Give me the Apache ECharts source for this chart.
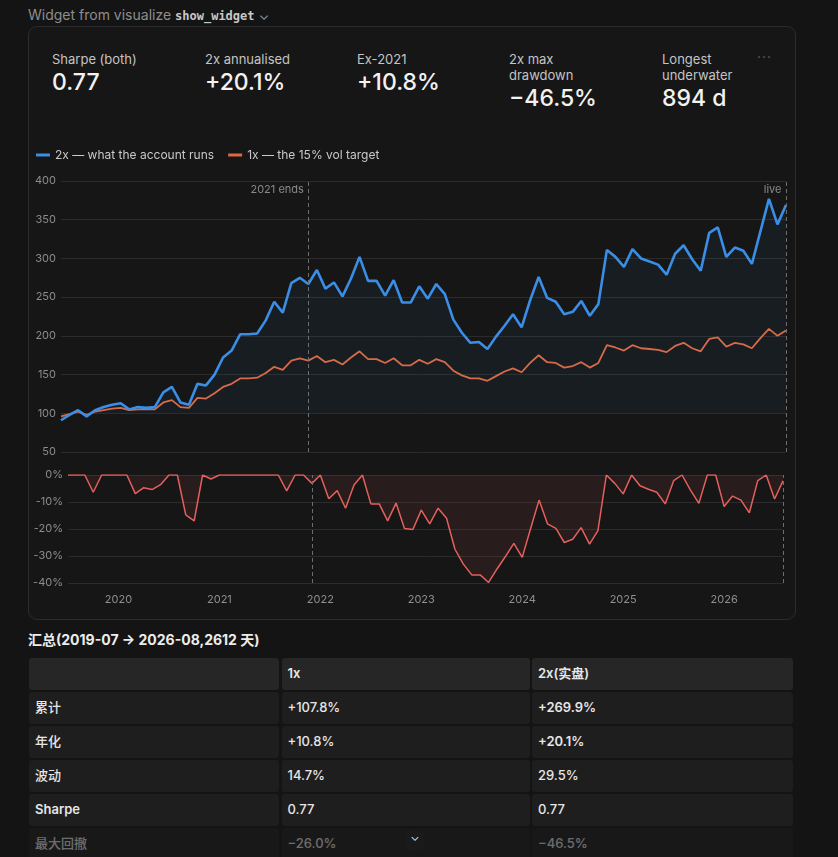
<!DOCTYPE html>
<html>
<head>
<meta charset="utf-8">
<script src="https://cdn.jsdelivr.net/npm/echarts@6/dist/echarts.min.js"></script>
<style>
html, body { margin: 0; padding: 0; width: 838px; height: 857px; overflow: hidden;
  background: #141414; font-family: Inter, "Noto Sans", "Noto Sans CJK SC", sans-serif; color: #e6e6e6; }
.top { position: absolute; left: 28px; top: 6px; font-size: 14px; color: #8e8e8e; line-height: 18px; }
.top code { font-family: "DejaVu Sans Mono", monospace; font-size: 12px; color: #c8c8c8; font-weight: bold; }
.card { position: absolute; left: 28px; top: 26px; width: 766px; height: 592px;
  border: 1px solid #2c2c2c; border-radius: 9px; background: #161616; }
.kpi { position: absolute; top: 51px; }
.kpi .lab { font-size: 13px; line-height: 16px; color: #c4c4c4; }
.kpi .val { font-size: 23px; line-height: 26px; margin-top: 2px; font-weight: 500; color: #f2f2f2; }
.dots { position: absolute; left: 757px; top: 48px; color: #5f5f5f; font-size: 14px; letter-spacing: 1px; }
#chart { position: absolute; left: 28px; top: 140px; width: 768px; height: 478px; }
.title { position: absolute; left: 28px; top: 630px; font-size: 14px; font-weight: 700; color: #ececec; line-height: 20px; }
.tbl { position: absolute; left: 29px; top: 658px; display: grid;
  grid-template-columns: 250px 248px 261px; grid-auto-rows: 31.5px; gap: 2.5px; }
.tbl div { background: #1e1e1e; border-radius: 3px; font-size: 13px; font-weight: 500;
  line-height: 31.5px; padding-left: 6px; color: #e6e6e6; }
.tbl div.h { background: #262626; font-weight: 600; }
.tbl div.b { font-weight: 600; }
.tbl div.f { opacity: 0.42; }
.more { position: absolute; left: 405px; top: 830px; width: 20px; height: 20px; border-radius: 6px;
  background: #1a1a1a; color: #cfcfcf; font-size: 12px; text-align: center; line-height: 14px; }
</style>
</head>
<body>
<div class="top">Widget from visualize <code>show_widget</code> &#8964;</div>
<div class="card"></div>
<div class="kpi" style="left:52px"><div class="lab">Sharpe (both)</div><div class="val">0.77</div></div>
<div class="kpi" style="left:205px"><div class="lab">2x annualised</div><div class="val">+20.1%</div></div>
<div class="kpi" style="left:357px"><div class="lab">Ex-2021</div><div class="val">+10.8%</div></div>
<div class="kpi" style="left:509px"><div class="lab">2x max<br>drawdown</div><div class="val">&minus;46.5%</div></div>
<div class="kpi" style="left:662px"><div class="lab">Longest<br>underwater</div><div class="val">894 d</div></div>
<div class="dots">&middot;&middot;&middot;</div>
<div id="chart"></div>
<div class="title">汇总(2019-07 &rarr; 2026-08,2612 天)</div>
<div class="tbl">
  <div class="h"></div><div class="h">1x</div><div class="h">2x(实盘)</div>
  <div>累计</div><div>+107.8%</div><div class="b">+269.9%</div>
  <div>年化</div><div>+10.8%</div><div class="b">+20.1%</div>
  <div>波动</div><div>14.7%</div><div>29.5%</div>
  <div class="b">Sharpe</div><div>0.77</div><div>0.77</div>
  <div class="f">最大回撤</div><div class="f">&minus;26.0%</div><div class="f">&minus;46.5%</div>
</div>
<div class="more">&#8964;</div>
<script>
var months = [
  '2019-07','2019-08','2019-09','2019-10','2019-11','2019-12',
  '2020-01','2020-02','2020-03','2020-04','2020-05','2020-06','2020-07','2020-08','2020-09','2020-10','2020-11','2020-12',
  '2021-01','2021-02','2021-03','2021-04','2021-05','2021-06','2021-07','2021-08','2021-09','2021-10','2021-11','2021-12',
  '2022-01','2022-02','2022-03','2022-04','2022-05','2022-06','2022-07','2022-08','2022-09','2022-10','2022-11','2022-12',
  '2023-01','2023-02','2023-03','2023-04','2023-05','2023-06','2023-07','2023-08','2023-09','2023-10','2023-11','2023-12',
  '2024-01','2024-02','2024-03','2024-04','2024-05','2024-06','2024-07','2024-08','2024-09','2024-10','2024-11','2024-12',
  '2025-01','2025-02','2025-03','2025-04','2025-05','2025-06','2025-07','2025-08','2025-09','2025-10','2025-11','2025-12',
  '2026-01','2026-02','2026-03','2026-04','2026-05','2026-06','2026-07','2026-08'
];

// 2x equity (start = 100)
var twoX = [
  91, 98, 104, 96, 104, 108, 111, 113, 105, 108,
  107, 108, 127, 134, 114, 111, 138, 136, 150, 172,
  181, 202, 202, 203, 220, 244, 230, 268, 275, 267,
  285, 261, 269, 251, 274, 302, 271, 271, 252, 272,
  243, 243, 264, 248, 267, 254, 221, 204, 191, 192,
  183, 199, 213, 228, 211, 246, 276, 249, 244, 228,
  231, 245, 226, 241, 311, 302, 289, 312, 300, 296,
  292, 279, 306, 317, 299, 284, 333, 340, 302, 314,
  310, 293, 335, 377, 344, 369
];

// 1x equity (15% vol target)
var oneX = [
  96, 99, 102, 98, 102, 104, 106, 107, 104, 105,
  105, 105, 114, 117, 108, 107, 120, 119, 126, 134,
  138, 145, 145, 146, 152, 160, 156, 168, 171, 168,
  174, 166, 169, 163, 172, 180, 170, 170, 165, 171,
  162, 162, 169, 164, 170, 166, 155, 149, 145, 145,
  142, 148, 154, 158, 153, 165, 175, 166, 165, 159,
  161, 166, 159, 165, 188, 185, 181, 188, 184, 183,
  182, 179, 187, 191, 184, 180, 196, 198, 186, 191,
  189, 184, 197, 209, 200, 207
];

// 2x drawdown, %
var drawdown = [
  0, 0, 0, -6.4, 0, 0, 0, 0, -6.9, -4.7,
  -5.4, -3.6, 0, 0, -14.8, -17, 0, -1.5, 0, 0,
  0, 0, 0, 0, 0, 0, -5.9, 0, 0, -3.1,
  0, -8.8, -5.8, -12.3, -3.7, 0, -10.7, -10.7, -17, -10.4,
  -19.8, -20.2, -13, -18.1, -12.3, -16, -27.5, -33, -37, -37,
  -39.8, -34.8, -30.2, -25.3, -30.5, -19.8, -9.3, -18.1, -19.8, -25,
  -23.8, -19.5, -25.6, -20.6, 0, -3.1, -7, 0, -4, -5.3,
  -6.4, -10.7, -2.1, 0, -5.6, -10.5, 0, 0, -11.7, -7.8,
  -9.3, -14, -2.1, 0, -8.9, -2.2
];

var ex2021 = '2021-12';
var liveMonth = '2026-08';

var chart = echarts.init(document.getElementById('chart'));

var dashed = {
    silent: true,
    symbol: 'none',
    label: { show: false },
    lineStyle: { color: '#6e6e6e', type: [4, 3], width: 1 },
    data: [{ xAxis: ex2021 }, { xAxis: liveMonth }]
};

var opt = {
    animation: false,
    textStyle: { fontFamily: 'Inter, "Noto Sans", sans-serif' },
    legend: {
        data: ['2x — what the account runs', '1x — the 15% vol target'],
        left: 8,
        top: 9,
        padding: 0,
        icon: 'rect',
        itemWidth: 14,
        itemHeight: 3,
        itemGap: 14,
        textStyle: { color: '#c9c9c9', fontSize: 12 }
    },
    grid: [
        { left: 33, right: 10, top: 41, height: 271 },
        { left: 40, right: 13, top: 335, height: 108 }
    ],
    xAxis: [
        { type: 'category', gridIndex: 0, data: months, boundaryGap: false, show: false },
        {
            type: 'category', gridIndex: 1, data: months, boundaryGap: false,
            axisLine: { show: false },
            axisTick: { show: false },
            axisLabel: {
                color: '#8f8f8f', fontSize: 11, margin: 11,
                interval: function (idx, val) { return val.slice(5) === '01'; },
                formatter: function (val) { return val.slice(0, 4); }
            }
        }
    ],
    yAxis: [
        {
            type: 'value', gridIndex: 0, min: 50, max: 400, interval: 50,
            axisLabel: { color: '#8c8c8c', fontSize: 11, margin: 5 },
            splitLine: { lineStyle: { color: '#2b2b2b' } }
        },
        {
            type: 'value', gridIndex: 1, min: -40, max: 0, interval: 10,
            axisLabel: { color: '#8c8c8c', fontSize: 11, margin: 5, formatter: '{value}%' },
            splitLine: { lineStyle: { color: '#2b2b2b' } }
        }
    ],
    series: [
        {
            name: '1x — the 15% vol target',
            type: 'line',
            data: oneX,
            color: '#e0683f',
            showSymbol: false,
            z: 2,
            lineStyle: { width: 1.8 }
        },
        {
            name: '2x — what the account runs',
            type: 'line',
            data: twoX,
            color: '#3a8ee6',
            showSymbol: false,
            z: 3,
            lineStyle: { width: 2.6 },
            areaStyle: { origin: 100, color: 'rgba(58,142,230,0.09)' },
            markLine: dashed,
            markPoint: {
                silent: true,
                symbol: 'rect',
                symbolSize: 1,
                itemStyle: { color: 'rgba(0,0,0,0)' },
                label: { show: true, position: 'left', distance: 4, offset: [0, 9], color: '#8a8a8a', fontSize: 11 },
                data: [
                    { coord: [ex2021, 400], value: '2021 ends', label: { formatter: '2021 ends' } },
                    { coord: [liveMonth, 400], value: 'live', label: { formatter: 'live' } }
                ]
            }
        },
        {
            name: 'drawdown',
            type: 'line',
            xAxisIndex: 1,
            yAxisIndex: 1,
            data: drawdown,
            color: '#e4605c',
            showSymbol: false,
            lineStyle: { width: 1.5 },
            areaStyle: { color: 'rgba(228,96,92,0.14)' },
            markLine: dashed
        }
    ]
};

chart.setOption(opt);
</script>
</body>
</html>
